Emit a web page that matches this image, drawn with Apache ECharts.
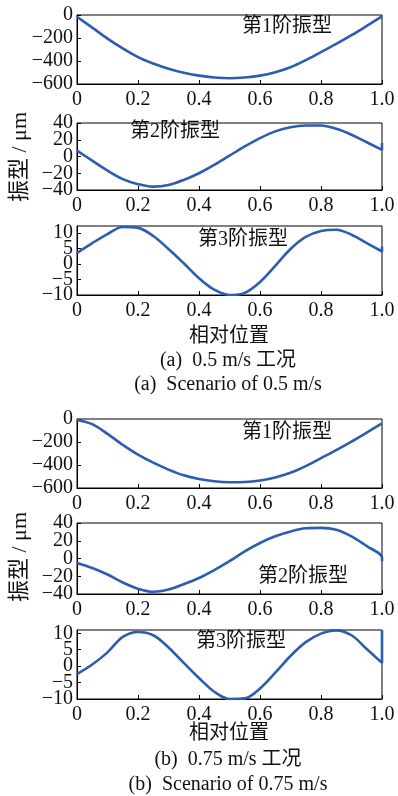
<!DOCTYPE html>
<html>
<head>
<meta charset="utf-8">
<script src="https://cdn.jsdelivr.net/npm/echarts@6/dist/echarts.min.js"></script>
<style>
html,body{margin:0;padding:0;background:#fff;}
#chart{width:398px;height:796px;}
</style>
</head>
<body>
<div id="chart"></div>
<script>
// relative position along the roller (last entry repeated for the end jump)
const positions = [0,0.05,0.1,0.15,0.2,0.25,0.3,0.35,0.4,0.45,0.5,0.55,0.6,0.65,0.7,0.75,0.8,0.85,0.9,0.95,1.0,1.0];

// (a) 0.5 m/s
const a_mode1 = [-15,-110,-205,-290,-366,-422,-468,-503,-527,-543,-550,-543,-527,-497,-454,-392,-322,-252,-176,-95,-12,-12];
const a_mode2 = [7,-5,-17,-27,-33,-36,-34,-28,-20,-10,1,12,22,30,35,37,37,33,26,17,8,16];
const a_mode3 = [3.5,6.7,9.6,11.9,11.6,9.0,4.8,0.2,-4.6,-8.3,-10,-9.3,-5.8,-0.6,4.8,8.7,10.6,11,9.4,6.7,4,5.6];

// (b) 0.75 m/s
const b_mode1 = [-8,-45,-130,-225,-310,-380,-440,-490,-522,-542,-550,-548,-535,-508,-468,-410,-340,-270,-196,-118,-38,-38];
const b_mode2 = [-5,-10.7,-18,-27,-34,-37.5,-35,-29,-22,-13,-3,8,17.5,25,30.5,34,34.5,32.5,25,14,1,-3];
const b_mode3 = [-2.4,0.5,4.2,8.9,10.4,9.4,5.7,1,-3.6,-7.8,-10,-9.8,-6.8,-2,3.1,7.3,9.9,10.9,9.4,5.2,1,11];

// y tick labels per mode
const mode1Ticks = [-600,-400,-200,0];
const mode2Ticks = [-40,-20,0,20,40];
const mode3Ticks = [-10,-5,0,5,10];
const xTicks = [0,0.2,0.4,0.6,0.8,1.0];

// texts
const modeNames = ['第1阶振型','第2阶振型','第3阶振型'];
const yTitle = '振型 / μm';
const xTitle = '相对位置';
const captionsA = ['(a)  0.5 m/s 工况','(a)  Scenario of 0.5 m/s'];
const captionsB = ['(b)  0.75 m/s 工况','(b)  Scenario of 0.75 m/s'];

const panels = [
  {data:a_mode1, top:15,  h:69, min:-600, max:0,    ticks:mode1Ticks},
  {data:a_mode2, top:123, h:67, min:-40,  max:40,   ticks:mode2Ticks},
  {data:a_mode3, top:226, h:69, min:-10,  max:12.2, ticks:mode3Ticks},
  {data:b_mode1, top:419, h:69, min:-600, max:0,    ticks:mode1Ticks},
  {data:b_mode2, top:523, h:71, min:-40,  max:40,   ticks:mode2Ticks},
  {data:b_mode3, top:630, h:69, min:-10,  max:11,   ticks:mode3Ticks}
];

const SERIF = '"Liberation Serif","Noto Sans CJK SC",serif';
const LEFT = 77, WIDTH = 305;
const lineColor = '#2c5dae';
const fmtY = v => String(v).replace('-','\u2212');

const grids=[], xAxes=[], yAxes=[], series=[];
panels.forEach((p,i)=>{
  grids.push({left:LEFT, top:p.top, width:WIDTH, height:p.h, show:true, borderColor:'#000', borderWidth:1, containLabel:false});
  xAxes.push({
    type:'value', gridIndex:i, min:0, max:1, interval:0.2,
    axisLine:{show:true, onZero:false, lineStyle:{color:'#000', width:1}},
    axisTick:{show:true, inside:true, length:4, lineStyle:{color:'#000'}},
    splitLine:{show:false},
    axisLabel:{
      color:'#111', fontFamily:SERIF, fontSize:20, margin:6,
      hideOverlap:false, showMinLabel:true, showMaxLabel:true,
      formatter:v=> v===0 ? '0' : v.toFixed(1)
    }
  });
  // two label layers on the same left side so tightly packed labels are all kept
  const evenTicks = p.ticks.filter((v,k)=>k%2===0);
  const oddTicks  = p.ticks.filter((v,k)=>k%2===1);
  yAxes.push({
    type:'value', gridIndex:i, min:p.min, max:p.max, position:'left',
    axisLine:{show:true, onZero:false, lineStyle:{color:'#000', width:1}},
    axisTick:{show:true, inside:true, length:4, lineStyle:{color:'#000'}, customValues:p.ticks},
    splitLine:{show:false},
    axisLabel:{
      color:'#111', fontFamily:SERIF, fontSize:20, margin:4,
      hideOverlap:false, showMinLabel:true, showMaxLabel:true,
      customValues:evenTicks, formatter:fmtY
    }
  });
  yAxes.push({
    type:'value', gridIndex:i, min:p.min, max:p.max, position:'left', offset:0,
    axisLine:{show:false, onZero:false},
    axisTick:{show:false},
    splitLine:{show:false},
    axisLabel:{
      color:'#111', fontFamily:SERIF, fontSize:20, margin:4,
      hideOverlap:false, showMinLabel:true, showMaxLabel:true,
      customValues:oddTicks, formatter:fmtY
    }
  });
  series.push({
    type:'line', xAxisIndex:i, yAxisIndex:2*i,
    data:positions.map((x,k)=>[x,p.data[k]]),
    showSymbol:false, smooth:0.35,
    lineStyle:{color:lineColor, width:2.6},
    clip:true
  });
});

function txt(x,y,text,size,extra){
  return Object.assign({type:'text', x:x, y:y, silent:true,
    style:{text:text, fill:'#111', font:size+'px '+SERIF, textAlign:'center', textVerticalAlign:'middle'}}, extra||{});
}

const graphic = [
  txt(287,27,modeNames[0],20),
  txt(175,132,modeNames[1],20),
  txt(243,240,modeNames[2],20),
  txt(287,433,modeNames[0],20),
  txt(303,577,modeNames[1],20),
  txt(241,642,modeNames[2],20),
  txt(20,157,yTitle,22,{rotation:Math.PI/2}),
  txt(20,557,yTitle,22,{rotation:Math.PI/2}),
  txt(229,337,xTitle,20),
  txt(228,361,captionsA[0],20),
  txt(228,385,captionsA[1],20),
  txt(229,734,xTitle,20),
  txt(228,760,captionsB[0],20),
  txt(228,785,captionsB[1],20)
];

const chart = echarts.init(document.getElementById('chart'), null, {renderer:'canvas'});
chart.setOption({
  animation:false,
  backgroundColor:'#fff',
  grid:grids, xAxis:xAxes, yAxis:yAxes, series:series, graphic:graphic
});
</script>
</body>
</html>
